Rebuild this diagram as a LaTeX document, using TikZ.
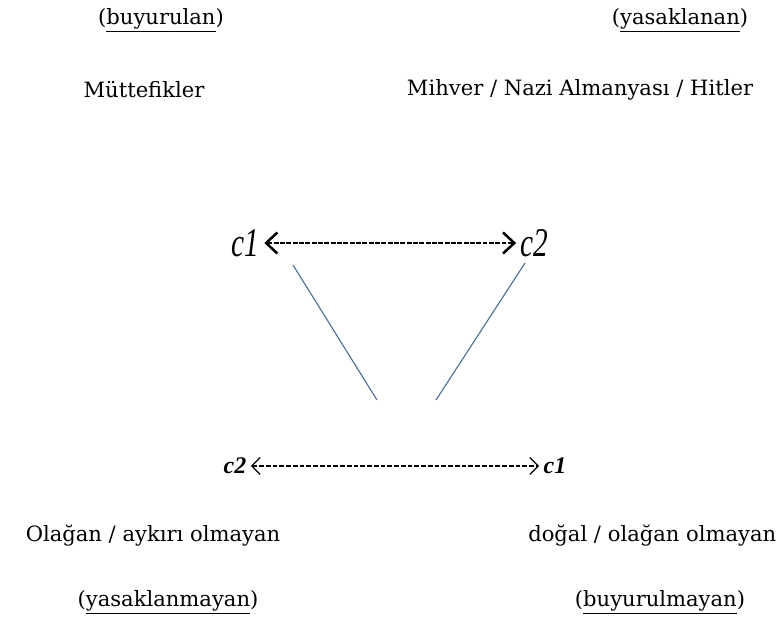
\documentclass[tikz,border=0pt]{standalone}
\usepackage{fontspec}
\setmainfont{DejaVu Serif}
\newfontfamily\cfont{Liberation Serif}
\usetikzlibrary{arrows.meta}
\definecolor{lineblue}{RGB}{74,112,160}
\begin{document}
\begin{tikzpicture}[x=0.025cm, y=-0.025cm]
  \tikzset{
    word_node/.style={inner sep=1pt, font=\fontsize{15}{18}\selectfont},
    top_c/.style={inner sep=1pt, font=\cfont\itshape\fontsize{29}{31}\selectfont, xscale=0.72},
    low_c/.style={inner sep=1pt, font=\cfont\itshape\bfseries\fontsize{17}{19}\selectfont},
    top_arrow/.style={{Straight Barb[length=8pt,width=15pt]}-{Straight Barb[length=8pt,width=15pt]}, line width=1.8pt, dash pattern=on 3.5pt off 1pt},
    low_arrow/.style={{Straight Barb[length=6pt,width=12pt]}-{Straight Barb[length=6pt,width=12pt]}, line width=0.9pt, dash pattern=on 3.5pt off 1.3pt},
    blue_line/.style={draw=lineblue, line width=0.8pt}
  }
  \useasboundingbox (0,0) rectangle (781,619);

  % Üst etiketler
  \node[word_node] (buy) at (161,20) {(\underline{buyurulan})};
  \node[word_node] (yas) at (680,20) {(\underline{yasaklanan})};
  \node[word_node] (mut) at (144,90) {Müttefikler};
  \node[word_node] (mih) at (580,90) {Mihver / Nazi Almanyası / Hitler};

  % Üst karşıtlık: c1 <--> c2
  \node[top_c] (c1top) at (245,243) {c1};
  \node[top_c] (c2top) at (534,243) {c2};
  \draw[top_arrow, shorten <=3pt, shorten >=2pt] (c1top) -- (c2top);

  % Çapraz çizgiler
  \coordinate (lefttop) at (293,265);
  \coordinate (leftbot) at (377,400);
  \coordinate (righttop) at (525,263);
  \coordinate (rightbot) at (436,400);
  \draw[blue_line] (lefttop) -- (leftbot);
  \draw[blue_line] (righttop) -- (rightbot);

  % Alt karşıtlık: c2 <--> c1
  \node[low_c] (c2low) at (235,466) {c2};
  \node[low_c] (c1low) at (555,466) {c1};
  \draw[low_arrow, shorten <=2pt, shorten >=2pt] (c2low) -- (c1low);

  % Alt etiketler
  \node[word_node] (ola) at (153,536) {Olağan / aykırı olmayan};
  \node[word_node, anchor=east] (dog) at (778,536) {doğal / olağan olmayan};
  \node[word_node] (yasm) at (168,602) {(\underline{yasaklanmayan})};
  \node[word_node] (buym) at (660,602) {(\underline{buyurulmayan})};
\end{tikzpicture}
\end{document}
